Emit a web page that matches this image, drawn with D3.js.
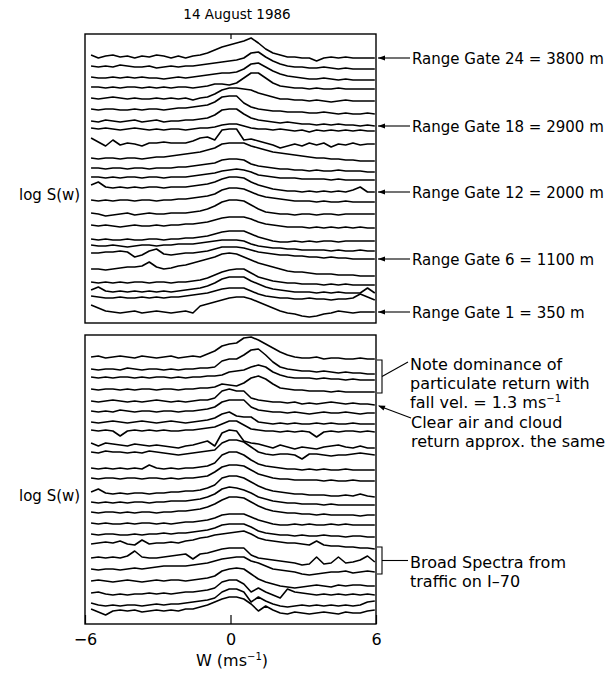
<!DOCTYPE html>
<html>
<head>
<meta charset="utf-8">
<script src="https://cdn.jsdelivr.net/npm/d3@7"></script>
<style>
  body { margin: 0; background: #fff; }
  text { font-family: "Liberation Sans", Arial, sans-serif; fill: #000; }
  .note { font-family: "DejaVu Sans", sans-serif; font-size: 16px; }
  .gate { font-family: "DejaVu Sans", sans-serif; font-size: 15px; }
</style>
</head>
<body>
<svg width="613" height="673"></svg>
<script>

// velocity bins (m/s) of every spectrum
var wBins = d3.range(40).map(function(i){ return -5.75 + 0.3 * i; });

// noise floor (log S, arbitrary units) of each spectrum, top = range gate 24 ... bottom = range gate 1
var topLevels = [267,257,246,236,225,214,202,195,185,165,155,146,138,123,110,98,84,78,70,54,41,33,27,18];
var botLevels = [267,255,247,235,223,213,202,194,181,172,156,146,132,122,112,101,90,80,66,55,43,31,21,15];

// spectra relative to their floor
var topSpectra = [
  [1,-2,0,1,-1,0,-2,0,-1,1, 0,-2,0,-2,0,1,3,6,9,11, 13,15,18,13,7,3,1,-1,-1,-2, -2,-5,-2,-1,-2,-1,-2,-2,-2,-2],
  [0,-1,0,-1,1,0,-1,-1,0,-2, -1,0,-1,0,0,1,2,3,4,5, 6,8,13,14,9,5,2,0,-1,-1, -2,-2,-1,-2,-3,-2,-3,-3,-3,-3],
  [0,-1,-1,0,-1,0,-1,0,-1,-1, -2,-1,0,-1,0,1,2,3,4,4, 5,8,13,14,10,6,3,1,0,-1, -2,-2,-1,-2,-3,-2,-3,-3,-3,-3],
  [0,0,-1,0,-1,0,0,-1,0,-1, 0,-1,0,0,-1,0,1,3,3,2, 4,9,14,14,9,4,1,0,-1,-1, -2,-1,-2,-2,-1,-2,-2,-2,-2,-2],
  [0,-1,0,1,0,-1,0,-1,-1,0, -1,0,-1,0,-2,0,1,4,8,10, 10,9,8,5,3,1,-1,-1,-2,-2, -3,-2,-3,-4,-3,-2,-3,-3,-3,-3],
  [0,-1,0,0,-1,-1,0,-1,0,0, -1,0,1,1,2,3,4,7,12,13, 13,6,2,0,-1,-2,-2,-3,-3,-3, -4,-4,-3,-4,-5,-4,-5,-5,-4,-5],
  [0,-1,1,0,-1,0,1,-1,0,1, -1,0,0,1,1,2,3,6,11,12, 12,7,3,1,0,-1,-2,-1,-2,-3, -3,-4,-3,-4,-3,-4,-4,-5,-4,-5],
  [0,-1,0,-1,-2,-1,0,-1,-2,-1, -2,-1,-1,-2,-1,0,0,1,3,4, 4,2,0,-1,-1,-2,-1,-2,-3,-2, -4,-2,-3,-2,-3,-2,-3,-2,-3,-3],
  [0,-4,-8,-2,-7,-5,-6,-8,-5,-5, -4,-5,-5,-5,-3,0,1,-2,8,9, 9,-2,-1,-3,-5,-7,-10,-8,-6,-8, -5,-7,-5,-9,-6,-7,-5,-7,-6,-6],
  [0,-1,0,0,-1,0,0,-1,0,1, 1,2,3,4,5,6,8,10,14,15, 15,15,12,10,8,6,5,4,3,2, 1,0,0,-1,-1,-2,-2,-3,-3,-3],
  [0,0,-1,0,0,-1,0,0,-1,0, 0,0,1,1,2,3,4,5,8,9, 9,8,4,2,1,0,-1,-1,-2,-2, -3,-2,-3,-3,-2,-3,-3,-3,-4,-4],
  [0,0,-1,0,-1,0,0,-1,0,0, -1,0,0,0,1,2,3,4,6,7, 8,7,5,2,1,0,-1,-1,-1,-2, -2,-2,-2,-3,-2,-3,-3,-3,-3,-3],
  [0,3,-2,-3,-2,-3,-2,-3,-2,-2, -3,-2,-2,-2,-1,0,1,3,6,8, 8,7,3,0,-2,-4,-5,-6,-6,-7, -6,-7,-6,-7,-6,-7,-5,-2,-7,-7],
  [0,-1,0,-1,0,0,-1,0,0,-1, 0,0,1,1,2,3,4,6,10,12, 12,11,8,5,3,2,1,0,-1,-1, -1,-2,-1,-2,-2,-1,-2,-2,-2,-2],
  [0,-1,-3,-2,-1,0,-2,-1,0,-1, -1,0,0,0,1,2,4,7,11,13, 13,12,8,4,1,0,-1,-1,-2,-1, -1,-2,-1,-1,-2,-1,-1,-1,-1,-1],
  [0,-1,0,-1,-2,-1,0,-1,-1,0, -1,0,0,1,1,2,3,5,7,8, 8,8,6,3,1,0,-1,-2,-2,-2, -3,-2,-3,-2,-3,-2,-3,-2,-3,-3],
  [0,-1,0,-1,-1,0,-1,-1,0,0, -1,0,0,1,1,2,3,5,7,8, 8,8,5,2,0,-2,-3,-3,-2,-3, -2,-3,-2,-2,-3,-2,-2,-2,-2,-2],
  [0,-1,-1,0,-1,-2,-1,0,0,-1, 0,0,1,1,1,2,3,4,5,5, 5,4,1,-1,-2,-3,-3,-4,-4,-5, -5,-5,-5,-6,-5,-6,-6,-5,-6,-6],
  [0,0,1,1,2,1,-4,-2,2,4, -1,-2,-1,0,0,1,2,4,6,6, 6,5,3,1,0,-1,-2,-2,-3,-3, -4,-4,-5,-4,-5,-5,-6,-6,-6,-6],
  [0,0,-1,0,1,2,2,3,7,2, 0,1,3,4,6,8,10,12,15,16, 15,12,9,6,4,2,0,-2,-3,-3, -4,-5,-5,-5,-6,-6,-6,-7,-7,-7],
  [0,-1,0,-1,0,-1,0,0,-1,0, 0,-1,0,0,1,2,4,7,10,12, 13,13,9,5,3,1,0,-1,-1,-2, -2,-2,-3,-2,-3,-2,-3,-3,-3,-3],
  [0,3,-1,-2,-1,-2,-1,-2,-1,-2, -1,-2,-1,0,1,2,4,7,11,13, 13,13,9,6,3,1,0,-1,-2,-2, -2,-3,-2,-3,-2,-3,-3,-3,2,-3],
  [0,-1,-2,-2,-1,-2,-2,-1,-2,-1, -2,-1,-1,0,1,2,3,5,7,8, 8,8,5,2,0,-1,-2,-2,-3,-3, -2,-3,-3,-4,-3,-3,-2,2,-1,-4],
  [0,-3,-6,-7,-8,-7,-6,-8,-7,-6, -7,-8,-7,-6,-8,-1,1,3,5,7, 8,8,6,3,0,-3,-6,-8,-9,-11, -12,-11,-9,-8,-6,-7,-8,-7,-7,-7]
];

var botSpectra = [
  [0,1,-1,0,1,0,-1,1,0,-1, 0,1,-1,0,1,0,3,6,11,13, 14,19,20,17,13,9,5,2,0,-1, -1,0,-2,-1,-1,-2,-2,-1,-2,-2],
  [0,-1,0,0,-1,1,0,-1,0,0, -1,0,-1,0,0,1,1,2,8,10, 10,14,19,20,14,7,2,0,-1,-2, -2,-3,-2,-3,-4,-3,-4,-4,-5,-5],
  [0,-1,0,-1,0,0,-1,0,-1,0, 0,-1,0,-1,0,0,1,1,2,5, 6,7,10,12,10,5,2,0,-1,-1, -1,-2,-1,-2,-2,-3,-2,-3,-3,-3],
  [0,-1,0,0,-1,0,-1,0,0,-1, 0,0,-1,0,0,1,1,2,5,4, 3,6,11,13,10,5,1,0,-1,-1, -2,-2,-2,-3,-2,-3,-3,-3,-3,-3],
  [0,-1,0,1,0,-1,0,-1,0,1, 0,-1,0,-1,0,1,1,3,10,12, 10,10,3,1,0,-1,-1,-2,-1,-3, -2,-3,-2,-1,-2,-3,-2,-3,-3,-4],
  [0,-1,0,-1,1,0,-1,0,0,-1, 0,0,-1,0,0,1,2,4,9,11, 11,11,4,1,0,-1,-1,-2,-1,-2, -3,-2,-1,-2,-2,-1,-2,-3,-2,-2],
  [0,-1,0,1,0,-1,0,1,0,-1, 0,1,0,-1,0,1,2,4,8,10, 6,5,5,0,-1,-2,-1,-2,-1,-2, -2,-1,-2,-1,-2,-2,-1,-2,-2,-2],
  [0,-1,0,-1,-6,-1,0,-1,0,-1, 0,-1,-1,0,0,1,2,3,6,9, 9,5,1,0,-1,-1,-2,-1,-2,-1, -2,-7,-2,-1,-2,-1,-1,-2,-1,-2],
  [0,-3,0,-1,-2,-3,-1,-2,-3,-2, -3,-4,-5,-3,-2,0,2,-3,10,13, 12,2,0,-1,-3,-5,-2,-4,-6,-4, -5,-6,-4,-3,-2,-4,-5,-3,-5,-5],
  [0,-1,1,0,0,-1,0,-1,1,0, -1,-2,-3,-2,-1,0,1,2,9,12, 12,10,5,0,-2,-3,-2,-2,-3,-7, -2,-2,-3,-4,-3,-3,-2,-1,-2,-3],
  [0,-1,0,-1,0,-1,0,-1,3,0, -1,0,-1,0,0,1,2,5,13,16, 16,13,8,4,2,1,0,-1,-1,-2, -1,-2,-1,-2,-2,-1,-2,-2,-2,-2],
  [0,-1,0,0,-1,0,0,-1,0,0, -1,0,-1,0,0,1,2,6,11,13, 13,12,8,4,2,0,-1,-1,-2,-2, -2,-2,-3,-2,-3,-3,-2,-3,-3,-3],
  [0,3,-1,-2,-1,-2,-1,-1,-2,-1, -1,0,0,1,1,2,4,7,14,16, 16,14,10,6,3,1,0,-1,-2,-2, -3,-3,-3,-4,-4,-3,-4,-2,-4,-5],
  [0,-1,0,-1,0,-1,0,0,-1,0, 0,1,1,1,2,3,5,8,13,15, 14,12,9,5,3,1,0,-1,-1,-2, -2,-2,-3,-2,-3,-3,-3,-3,-3,-3],
  [0,-1,0,0,-1,0,-1,0,0,-1, 0,0,1,1,2,3,5,8,12,15, 15,14,10,6,3,1,0,-1,-1,-2, -2,-3,-2,-3,-3,-3,-3,-4,-3,-3],
  [0,-1,0,-1,-1,0,-1,0,0,-1, 0,-1,0,1,1,2,3,5,8,9, 9,9,6,3,1,-1,-2,-2,-1,-2, -1,-2,-2,-1,-2,-1,-2,-2,-2,-2],
  [0,-1,0,0,-1,-1,0,-1,0,0, 1,0,1,1,2,3,4,6,9,10, 10,10,7,3,1,0,-1,-1,-2,-1, -2,-2,-1,-2,-2,-3,-2,-2,-3,-3],
  [0,1,2,1,3,0,-1,4,0,1, 1,2,1,3,4,6,7,9,10,11, 12,13,10,6,4,3,2,1,1,0, -1,3,-1,-2,-2,-3,-3,-4,-4,-5],
  [0,1,0,1,0,2,7,1,0,0, 1,2,3,4,-1,4,5,7,9,10, 10,10,3,0,-1,-2,-3,-4,-5,-7, -6,1,-6,-5,1,-5,-4,-2,2,-4],
  [0,-1,0,0,-1,0,1,0,1,2, 3,3,3,3,4,5,6,8,10,11, 12,12,8,6,3,0,-1,-2,-3,-5, -6,-5,-4,-3,-3,-2,-4,-3,-2,-3],
  [0,1,0,-1,0,1,0,-1,0,1, 0,1,1,0,1,2,3,5,10,12, 13,12,7,2,-1,-3,-5,-6,-7,-6, -5,-4,-5,-6,-4,-5,-4,-4,-5,-5],
  [0,1,-1,-2,-1,-2,-1,-1,0,-1, 0,-1,0,1,1,2,3,5,11,13, 13,9,1,5,1,-2,-5,4,1,0, -1,-2,-1,-2,-1,-2,-1,-2,-1,-2],
  [0,-2,-3,-2,-3,-2,-2,-3,-2,-1, -2,-1,-1,0,1,2,3,5,11,14, 14,11,1,6,2,-1,-3,-4,-3,-2, -3,-2,-3,-2,-3,-2,-3,-2,1,2],
  [0,-3,-6,-2,-1,-2,-1,-3,-2,-1, -2,-1,-2,0,0,2,4,7,10,12, 12,10,5,-2,3,-1,-4,-5,-3,-4, -5,-4,-3,-4,-5,-3,-4,-4,-2,-1]
];

// labelled range gates (top panel)
var gateNums = [24, 18, 12, 6, 1];
var gateHeights = ["3800 m", "2900 m", "2000 m", "1100 m", "350 m"];

var xTicks = [-6, 0, 6];


var svg = d3.select("svg");

var x = d3.scaleLinear().domain([-6, 6]).range([85, 376]);

var panels = [
  { top: 34,  bottom: 323, levels: topLevels, spectra: topSpectra },
  { top: 335, bottom: 624, levels: botLevels, spectra: botSpectra }
];

panels.forEach(function(p){
  p.y = d3.scaleLinear().domain([0, 289]).range([p.bottom, p.top]);

  var line = d3.line()
    .x(function(d, i){ return x(wBins[i]); })
    .y(function(d){ return p.y(d); });

  svg.append("g")
    .selectAll("path")
    .data(p.spectra.map(function(s, k){
      return s.map(function(v){ return p.levels[k] + v; });
    }))
    .enter().append("path")
    .attr("d", line)
    .attr("fill", "none")
    .attr("stroke", "#000")
    .attr("stroke-width", 1.6)
    .attr("stroke-linejoin", "round");

  svg.append("rect")
    .attr("x", x(-6))
    .attr("y", p.top)
    .attr("width", x(6) - x(-6))
    .attr("height", p.bottom - p.top)
    .attr("fill", "none")
    .attr("stroke", "#000")
    .attr("stroke-width", 1.4);

  // end value of each spectrum, used by the annotations
  p.ends = p.spectra.map(function(s, k){ return p.y(p.levels[k] + s[s.length - 1]); });
});

// top tick at w = 0
svg.append("g")
  .attr("transform", "translate(0," + panels[0].top + ")")
  .call(d3.axisTop(x).tickValues([0]).tickSizeInner(-5).tickSizeOuter(0).tickFormat(""))
  .call(function(g){ g.select(".domain").remove(); g.selectAll("line").attr("stroke-width", 1.2); });

// bottom axis
var xAxis = svg.append("g")
  .attr("transform", "translate(0," + panels[1].bottom + ")")
  .call(d3.axisBottom(x).tickValues(xTicks).tickSizeInner(-9).tickSizeOuter(0).tickPadding(10))
  .call(function(g){ g.select(".domain").remove(); });
xAxis.selectAll("line").attr("stroke-width", 1.2);
xAxis.selectAll("text")
  .style("font-family", "'DejaVu Sans', sans-serif")
  .style("font-size", "16px")
  .attr("fill", "#000");

var axisLabel = svg.append("text")
  .attr("class", "note")
  .attr("x", 232).attr("y", 666)
  .attr("text-anchor", "middle");
axisLabel.append("tspan").text("W (ms");
axisLabel.append("tspan").attr("dy", -6).style("font-size", "10px").text("\u22121");
axisLabel.append("tspan").attr("dy", 6).text(")");

svg.append("text")
  .attr("x", 237).attr("y", 19)
  .attr("text-anchor", "middle")
  .style("font-family", "'DejaVu Sans', sans-serif")
  .style("font-size", "13.5px")
  .text("14 August 1986");

panels.forEach(function(p){
  svg.append("text")
    .attr("class", "gate")
    .attr("x", 19).attr("y", (p.top + p.bottom) / 2 + 21)
    .text("log S(w)");
});

// range gate arrows
function arrowHead(x0, y0, angle){
  var a = angle * Math.PI / 180, L = 7, W = 2.6;
  var bx = x0 + L * Math.cos(a), by = y0 + L * Math.sin(a);
  var nx = -Math.sin(a) * W, ny = Math.cos(a) * W;
  svg.append("path")
    .attr("d", "M" + x0 + "," + y0 + "L" + (bx + nx) + "," + (by + ny) + "L" + (bx - nx) + "," + (by - ny) + "Z")
    .attr("fill", "#000");
}

gateNums.forEach(function(g, k){
  var yy = panels[0].ends[24 - g];
  svg.append("line")
    .attr("x1", 378).attr("x2", 410).attr("y1", yy).attr("y2", yy)
    .attr("stroke", "#000").attr("stroke-width", 1.1);
  arrowHead(378, yy, 0);
  svg.append("text")
    .attr("class", "gate")
    .attr("x", 412).attr("y", yy + 5.5)
    .text("Range Gate " + g + " = " + gateHeights[k]);
});

// bottom panel annotations
var ends = panels[1].ends;

function bracket(y1, y2){
  svg.append("path")
    .attr("d", "M377," + y1 + "H382V" + y2 + "H377")
    .attr("fill", "none").attr("stroke", "#000").attr("stroke-width", 1.1);
}

var b1 = ends[0] + 1, b2 = ends[3] + 1;
bracket(b1, b2);
svg.append("line")
  .attr("x1", 382).attr("y1", (b1 + b2) / 2)
  .attr("x2", 408).attr("y2", 362)
  .attr("stroke", "#000").attr("stroke-width", 1.1);

var noteText = svg.append("text").attr("class", "note");
noteText.append("tspan").attr("x", 410).attr("y", 370).text("Note dominance of");
noteText.append("tspan").attr("x", 410).attr("y", 389).text("particulate return with");
noteText.append("tspan").attr("x", 410).attr("y", 408).text("fall vel. = 1.3 ms");
noteText.append("tspan").attr("dy", -6).style("font-size", "10px").text("\u22121");

var yc = ends[4];
svg.append("line")
  .attr("x1", 379).attr("y1", yc + 1)
  .attr("x2", 411).attr("y2", 418)
  .attr("stroke", "#000").attr("stroke-width", 1.1);
arrowHead(378, yc + 0.5, Math.atan2(418 - yc, 411 - 378) * 180 / Math.PI);

var clearText = svg.append("text").attr("class", "note");
clearText.append("tspan").attr("x", 411).attr("y", 428).text("Clear air and cloud");
clearText.append("tspan").attr("x", 411).attr("y", 447).text("return approx. the same");

var c1 = ends[17] - 2, c2 = ends[19] + 2;
bracket(c1, c2);
svg.append("line")
  .attr("x1", 382).attr("x2", 408).attr("y1", (c1 + c2) / 2).attr("y2", (c1 + c2) / 2)
  .attr("stroke", "#000").attr("stroke-width", 1.1);

var broadText = svg.append("text").attr("class", "note");
broadText.append("tspan").attr("x", 410).attr("y", 568).text("Broad Spectra from");
broadText.append("tspan").attr("x", 410).attr("y", 587).text("traffic on I\u201370");

</script>
</body>
</html>
